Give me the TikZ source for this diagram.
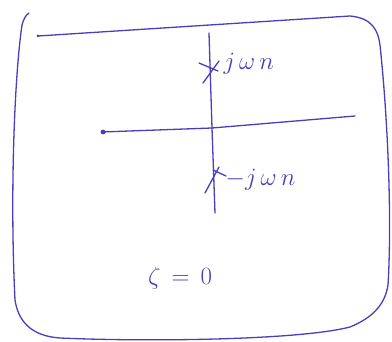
\documentclass[tikz,border=0pt]{standalone}
\usepackage{xcolor}
\usepackage{amsmath}
\usepackage{tikz}
\definecolor{ink}{RGB}{72,62,190}

\begin{document}
\begin{tikzpicture}[x=1pt,y=-1pt,line width=1.3pt,line cap=round,line join=round,
    color=ink,
    lbl/.style={text=ink,font=\fontsize{26}{30}\selectfont,inner sep=1pt}]
    \useasboundingbox (0,0) rectangle (392,342);
    \def\ox{212}
    \def\oy{128}

    % frame
    \draw (38,36) -- (350,16) .. controls (372,18) and (378,30) .. (380,45)
        .. controls (388,120) and (392,220) .. (388,285)
        .. controls (385,305) and (372,318) .. (350,327)
        .. controls (300,340) and (150,342) .. (60,338)
        .. controls (30,336) and (18,320) .. (15,300)
        .. controls (10,200) and (14,80) .. (22,25)
        .. controls (24,18) and (26,15) .. (29,13);
    \fill (38,36) circle (1.5pt);

    % axes
    \draw (102,132) -- (\ox,\oy) -- (355,116);
    \draw (209,33) -- (\ox,\oy) -- (215,213);
    \fill (103,132) circle (2.4pt);

    % poles
    \draw (199,63) -- (218,71);
    \draw (203,83) -- (219,61);
    \draw (205,193) -- (219,167);
    \draw (213,170) -- (226,176);

    % labels
    \node[lbl,right] (jw) at (222,64) {$j\,\omega\, n$};
    \node[lbl,right] (mjw) at (224,180) {$-j\,\omega\, n$};
    \node[lbl] (zeta) at (180,278) {$\zeta \,=\, 0$};

\end{tikzpicture}
\end{document}
